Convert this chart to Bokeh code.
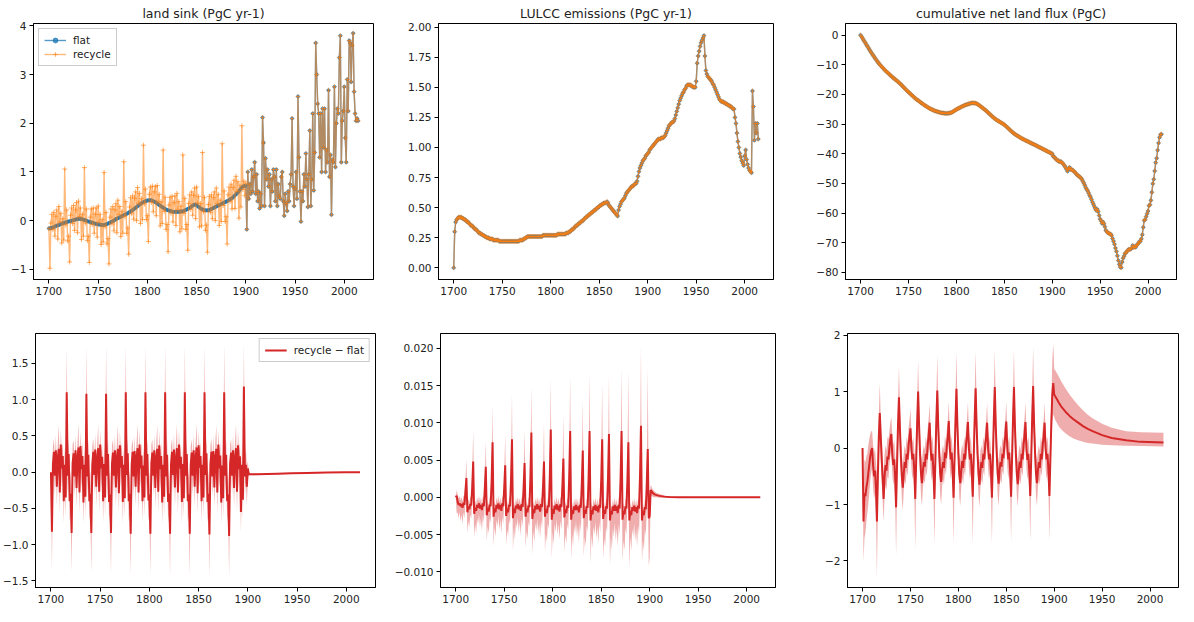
from bokeh.plotting import figure
from bokeh.layouts import column, row
from bokeh.models import Range1d, FixedTicker, CustomJSTickFormatter, Legend, LegendItem
from bokeh.embed import file_html
from bokeh.resources import INLINE

FONT = "DejaVu Sans"
BLUE = "#1f77b4"
ORANGE = "#ff7f0e"
RED = "#d62728"

# ---------------- data ----------------
years = list(range(1700, 2015))
years_pre = list(range(1700, 1901))

titles = ["land sink (PgC yr-1)", "LULCC emissions (PgC yr-1)", "cumulative net land flux (PgC)"]
x_ticks = [1700, 1750, 1800, 1850, 1900, 1950, 2000]

sink_flat_pre = [
    -0.16, -0.16, -0.15, -0.15, -0.14, -0.13, -0.12, -0.11, -0.10, -0.10,
    -0.09, -0.08, -0.07, -0.06, -0.06, -0.05, -0.04, -0.04, -0.03, -0.02,
    -0.02, -0.01, -0.01, 0.00, 0.00, 0.01, 0.02, 0.02, 0.03, 0.03,
    0.04, 0.04, 0.04, 0.03, 0.03, 0.02, 0.01, 0.01, 0.00, -0.01,
    -0.02, -0.02, -0.03, -0.04, -0.04, -0.05, -0.06, -0.06, -0.07, -0.07,
    -0.08, -0.08, -0.08, -0.09, -0.09, -0.09, -0.09, -0.08, -0.08, -0.07,
    -0.06, -0.05, -0.04, -0.03, -0.02, -0.01, 0.00, 0.02, 0.03, 0.04,
    0.05, 0.06, 0.07, 0.08, 0.09, 0.10, 0.11, 0.12, 0.13, 0.14,
    0.15, 0.16, 0.18, 0.19, 0.20, 0.22, 0.23, 0.25, 0.26, 0.28,
    0.30, 0.31, 0.33, 0.34, 0.36, 0.37, 0.38, 0.39, 0.40, 0.41,
    0.41, 0.42, 0.42, 0.42, 0.42, 0.41, 0.40, 0.39, 0.38, 0.37,
    0.35, 0.34, 0.32, 0.31, 0.29, 0.28, 0.27, 0.25, 0.24, 0.23,
    0.22, 0.21, 0.21, 0.20, 0.19, 0.19, 0.18, 0.18, 0.18, 0.18,
    0.18, 0.18, 0.18, 0.18, 0.19, 0.19, 0.19, 0.20, 0.21, 0.22,
    0.23, 0.24, 0.25, 0.26, 0.28, 0.29, 0.31, 0.32, 0.33, 0.33,
    0.32, 0.30, 0.28, 0.27, 0.25, 0.24, 0.23, 0.22, 0.22, 0.21,
    0.21, 0.21, 0.22, 0.22, 0.23, 0.24, 0.25, 0.26, 0.27, 0.28,
    0.29, 0.30, 0.31, 0.32, 0.33, 0.34, 0.35, 0.36, 0.37, 0.38,
    0.39, 0.40, 0.41, 0.42, 0.44, 0.45, 0.46, 0.48, 0.50, 0.52,
    0.54, 0.56, 0.58, 0.60, 0.63, 0.66, 0.68, 0.70, 0.71, 0.71,
    0.72]

sink_recycle_pre = [
    -0.16, -0.98, -0.05, 0.13, -0.19, 0.17, -0.32, 0.09, 0.22, -0.38, 0.29, -0.03, 0.15, -0.46, 0.04, -0.40, 1.06, -0.09, 0.22, -0.42,
    -0.32, -0.85, 0.11, 0.26, -0.06, 0.31, -0.20, 0.22, 0.37, -0.25, 0.40, 0.08, 0.26, -0.39, 0.13, -0.32, 1.09, -0.05, 0.24, -0.41,
    -0.32, -0.86, 0.07, 0.24, -0.08, 0.26, -0.26, 0.13, 0.26, -0.34, 0.30, -0.03, 0.13, -0.49, 0.02, -0.44, 0.99, -0.13, 0.17, -0.48,
    -0.37, -0.89, 0.07, 0.24, -0.07, 0.29, -0.21, 0.22, 0.35, -0.25, 0.42, 0.12, 0.29, -0.33, 0.19, -0.26, 1.21, 0.08, 0.39, -0.26,
    -0.15, -0.69, 0.28, 0.47, 0.14, 0.51, 0.03, 0.46, 0.59, 0.00, 0.68, 0.36, 0.56, -0.06, 0.45, 0.02, 1.55, 0.34, 0.65, 0.02,
    0.10, -0.43, 0.54, 0.69, 0.37, 0.71, 0.18, 0.59, 0.70, 0.10, 0.72, 0.38, 0.54, -0.11, 0.39, -0.06, 1.45, 0.19, 0.48, -0.18,
    -0.08, -0.64, 0.32, 0.48, 0.15, 0.50, -0.03, 0.37, 0.51, -0.10, 0.56, 0.23, 0.39, -0.23, 0.30, -0.17, 1.35, 0.15, 0.46, -0.18,
    -0.08, -0.61, 0.35, 0.53, 0.23, 0.59, 0.11, 0.52, 0.67, 0.04, 0.69, 0.36, 0.50, -0.13, 0.35, -0.11, 1.40, 0.18, 0.48, -0.20,
    -0.09, -0.65, 0.33, 0.50, 0.17, 0.53, 0.04, 0.47, 0.59, 0.00, 0.67, 0.35, 0.54, -0.10, 0.42, -0.02, 1.58, 0.31, 0.61, -0.02,
    0.08, -0.48, 0.53, 0.69, 0.39, 0.75, 0.24, 0.68, 0.83, 0.25, 0.91, 0.60, 0.80, 0.05, 0.73, 0.28, 1.95, 0.64, 0.81, 0.51,
    0.77]

# observed land sink 1901-2014 (identical in both runs)
sink_obs = [
    -0.18, 1.00, 0.45, 0.75, 0.55, 1.05, 0.60, 0.90, 1.20, 0.55,
    0.95, 0.40, 0.60, 0.25, 0.55, 0.30, 2.12, 1.60, 0.30, 1.28,
    0.85, 1.05, 0.70, 0.95, 0.30, 0.85, 0.60, 1.05, 0.90, 0.40,
    1.05, 0.30, 0.75, 0.50, 0.45, 0.90, 1.00, 0.40, 0.10, 0.55,
    0.35, 0.20, 0.60, 0.40, 0.75, 0.95, 2.10, 0.70, 0.30, 0.65,
    1.00, 0.45, 2.55, 1.30, 0.60, -0.02, 0.60, 0.40, 0.95, 0.70,
    1.38, 0.85, 0.28, 0.95, 1.85, 0.30, 0.85, 2.20, 0.62, 1.40,
    3.65, 3.00, 2.40, 2.20, 1.30, 2.20, 1.00, 2.30, 1.50, 2.30,
    1.00, 1.45, 1.20, 2.68, 0.90, 1.35, 0.12, 1.25, 1.20, 2.75,
    1.10, 2.00, 2.30, 2.20, 3.35, 3.80, 1.20, 2.05, 2.25, 2.75,
    1.70, 1.20, 2.90, 2.25, 3.70, 3.65, 2.85, 3.60, 3.85, 2.65,
    2.20, 2.05, 2.10, 2.05]

lulcc = [
    0.00, 0.30, 0.38, 0.40, 0.41, 0.42, 0.42, 0.42, 0.42, 0.41,
    0.41, 0.40, 0.40, 0.39, 0.38, 0.38, 0.37, 0.36, 0.35, 0.35,
    0.34, 0.33, 0.32, 0.32, 0.31, 0.30, 0.29, 0.29, 0.28, 0.28,
    0.27, 0.27, 0.26, 0.26, 0.25, 0.25, 0.25, 0.24, 0.24, 0.24,
    0.24, 0.23, 0.23, 0.23, 0.23, 0.23, 0.23, 0.22, 0.22, 0.22,
    0.22, 0.22, 0.22, 0.22, 0.22, 0.22, 0.22, 0.22, 0.22, 0.22,
    0.22, 0.22, 0.22, 0.22, 0.22, 0.22, 0.22, 0.22, 0.23, 0.23,
    0.23, 0.23, 0.24, 0.24, 0.25, 0.25, 0.26, 0.26, 0.26, 0.26,
    0.26, 0.26, 0.26, 0.26, 0.26, 0.26, 0.26, 0.26, 0.26, 0.26,
    0.26, 0.26, 0.27, 0.27, 0.27, 0.27, 0.27, 0.27, 0.27, 0.27,
    0.27, 0.27, 0.27, 0.27, 0.27, 0.27, 0.27, 0.28, 0.28, 0.28,
    0.28, 0.28, 0.28, 0.28, 0.28, 0.28, 0.29, 0.29, 0.29, 0.30,
    0.30, 0.31, 0.32, 0.32, 0.33, 0.34, 0.35, 0.35, 0.36, 0.37,
    0.37, 0.38, 0.39, 0.39, 0.40, 0.41, 0.42, 0.42, 0.43, 0.44,
    0.44, 0.45, 0.46, 0.46, 0.47, 0.48, 0.48, 0.49, 0.50, 0.50,
    0.51, 0.52, 0.52, 0.53, 0.53, 0.54, 0.54, 0.54, 0.55, 0.54,
    0.52, 0.51, 0.50, 0.49, 0.48, 0.47, 0.46, 0.45, 0.44, 0.43,
    0.48, 0.51, 0.53, 0.55, 0.56, 0.57, 0.58, 0.60, 0.62, 0.63,
    0.64, 0.65, 0.66, 0.67, 0.68, 0.68, 0.69, 0.70, 0.70, 0.72,
    0.76, 0.80, 0.83, 0.85, 0.87, 0.89, 0.90, 0.91, 0.93, 0.94,
    0.95, 0.96, 0.98, 0.99, 1.00, 1.01, 1.02, 1.03, 1.04, 1.05,
    1.06, 1.07, 1.07, 1.07, 1.08, 1.08, 1.08, 1.09, 1.10, 1.12,
    1.14, 1.16, 1.18, 1.19, 1.20, 1.21, 1.21, 1.22, 1.24, 1.27,
    1.30, 1.33, 1.36, 1.39, 1.41, 1.43, 1.45, 1.46, 1.48, 1.49,
    1.51, 1.52, 1.52, 1.52, 1.52, 1.51, 1.51, 1.50, 1.50, 1.50,
    1.55, 1.70, 1.76, 1.80, 1.84, 1.87, 1.89, 1.91, 1.93, 1.76,
    1.64, 1.61, 1.59, 1.58, 1.57, 1.56, 1.55, 1.53, 1.52, 1.50,
    1.48, 1.46, 1.44, 1.42, 1.40, 1.39, 1.38, 1.38, 1.38, 1.37,
    1.37, 1.36, 1.36, 1.35, 1.35, 1.34, 1.34, 1.33, 1.32, 1.32,
    1.25, 1.20, 1.12, 1.05, 1.00, 0.95, 0.92, 0.89, 0.87, 0.85,
    0.93, 0.98, 0.90, 0.86, 0.83, 0.81, 0.80, 0.79, 1.47, 1.34,
    1.06, 1.20, 1.12, 1.20, 1.07]

cum_flux = [
    0.0, -0.5, -1.0, -1.6, -2.1, -2.6, -3.2, -3.7, -4.2, -4.8,
    -5.3, -5.8, -6.3, -6.8, -7.2, -7.7, -8.2, -8.6, -9.1, -9.5,
    -9.9, -10.3, -10.6, -11.0, -11.3, -11.7, -12.0, -12.3, -12.6, -12.9,
    -13.2, -13.5, -13.8, -14.1, -14.4, -14.6, -14.9, -15.2, -15.4, -15.7,
    -16.0, -16.3, -16.6, -16.9, -17.3, -17.6, -17.9, -18.3, -18.6, -18.9,
    -19.2, -19.5, -19.8, -20.1, -20.4, -20.7, -21.0, -21.3, -21.6, -21.8,
    -22.0, -22.3, -22.5, -22.8, -23.0, -23.2, -23.5, -23.7, -23.9, -24.1,
    -24.3, -24.5, -24.7, -24.9, -25.0, -25.2, -25.3, -25.5, -25.6, -25.7,
    -25.8, -25.9, -26.0, -26.1, -26.2, -26.2, -26.3, -26.3, -26.4, -26.4,
    -26.4, -26.4, -26.3, -26.3, -26.2, -26.1, -25.9, -25.7, -25.5, -25.3,
    -25.1, -24.9, -24.7, -24.6, -24.4, -24.2, -24.1, -23.9, -23.8, -23.6,
    -23.5, -23.4, -23.3, -23.2, -23.1, -23.0, -22.9, -22.9, -22.9, -22.9,
    -23.0, -23.1, -23.3, -23.5, -23.7, -24.0, -24.2, -24.5, -24.7, -25.0,
    -25.2, -25.5, -25.8, -26.1, -26.4, -26.7, -27.0, -27.3, -27.6, -27.9,
    -28.1, -28.4, -28.6, -28.8, -29.0, -29.2, -29.4, -29.6, -29.8, -30.0,
    -30.2, -30.5, -30.8, -31.1, -31.4, -31.7, -32.0, -32.3, -32.6, -32.9,
    -33.1, -33.4, -33.6, -33.8, -34.0, -34.2, -34.4, -34.6, -34.8, -35.0,
    -35.1, -35.3, -35.5, -35.6, -35.8, -35.9, -36.1, -36.3, -36.4, -36.6,
    -36.7, -36.9, -37.0, -37.2, -37.4, -37.5, -37.7, -37.9, -38.0, -38.2,
    -38.4, -38.5, -38.7, -38.9, -39.0, -39.2, -39.4, -39.5, -39.7, -39.9,
    -40.0, -40.9, -41.0, -41.5, -41.8, -42.2, -42.2, -42.6, -42.7, -42.6,
    -43.0, -43.2, -43.7, -44.1, -44.7, -45.2, -45.9, -45.0, -44.6, -45.3,
    -45.2, -45.5, -45.7, -46.1, -46.3, -46.8, -47.1, -47.4, -47.6, -47.9,
    -48.2, -48.6, -49.3, -49.9, -50.6, -51.4, -52.0, -52.5, -53.2, -54.0,
    -54.6, -55.4, -56.3, -57.0, -57.8, -58.5, -59.1, -58.7, -59.5, -60.8,
    -62.0, -62.6, -63.5, -63.0, -63.6, -64.6, -65.8, -66.3, -66.6, -66.8,
    -67.0, -67.1, -67.6, -68.6, -69.5, -70.5, -71.8, -72.9, -74.4, -76.0,
    -77.3, -78.2, -78.4, -76.5, -75.2, -74.5, -73.6, -73.4, -72.9, -72.5,
    -72.2, -72.3, -72.1, -71.8, -70.9, -71.6, -71.4, -71.5, -70.9, -70.5,
    -70.2, -69.6, -69.5, -68.7, -67.3, -64.8, -62.5, -62.2, -61.2, -60.2,
    -59.3, -57.5, -57.2, -55.7, -53.0, -50.1, -48.6, -45.8, -43.0, -41.5,
    -38.8, -36.4, -34.5, -33.6, -33.4]

# ---- recycle - flat: land sink ----
dL_mean_pre = [
    0.00, -0.82, 0.10, 0.28, -0.05, 0.30, -0.20, 0.20, 0.32, -0.28, 0.38, 0.05, 0.22, -0.40, 0.10, -0.35, 1.10, -0.05, 0.25, -0.40,
    -0.30, -0.84, 0.12, 0.26, -0.06, 0.30, -0.22, 0.20, 0.34, -0.28, 0.36, 0.04, 0.22, -0.42, 0.10, -0.34, 1.08, -0.06, 0.24, -0.40,
    -0.30, -0.84, 0.10, 0.28, -0.04, 0.31, -0.20, 0.19, 0.33, -0.27, 0.38, 0.05, 0.21, -0.40, 0.11, -0.35, 1.08, -0.05, 0.25, -0.41,
    -0.31, -0.84, 0.11, 0.27, -0.05, 0.30, -0.21, 0.20, 0.32, -0.29, 0.37, 0.06, 0.22, -0.41, 0.10, -0.36, 1.10, -0.04, 0.26, -0.40,
    -0.30, -0.85, 0.10, 0.28, -0.06, 0.29, -0.20, 0.21, 0.33, -0.28, 0.38, 0.05, 0.23, -0.40, 0.09, -0.35, 1.10, -0.05, 0.25, -0.39,
    -0.31, -0.85, 0.12, 0.27, -0.05, 0.30, -0.22, 0.20, 0.32, -0.27, 0.37, 0.04, 0.22, -0.42, 0.10, -0.34, 1.10, -0.06, 0.24, -0.41,
    -0.30, -0.85, 0.11, 0.28, -0.04, 0.31, -0.21, 0.19, 0.33, -0.28, 0.38, 0.05, 0.21, -0.41, 0.11, -0.36, 1.10, -0.05, 0.25, -0.40,
    -0.31, -0.85, 0.10, 0.27, -0.05, 0.30, -0.20, 0.20, 0.34, -0.29, 0.37, 0.06, 0.22, -0.40, 0.10, -0.35, 1.10, -0.04, 0.26, -0.41,
    -0.30, -0.86, 0.11, 0.28, -0.06, 0.29, -0.21, 0.21, 0.32, -0.28, 0.38, 0.05, 0.23, -0.42, 0.09, -0.36, 1.10, -0.05, 0.24, -0.40,
    -0.31, -0.88, 0.12, 0.27, -0.05, 0.30, -0.22, 0.20, 0.33, -0.27, 0.37, 0.04, 0.22, -0.55, 0.10, -0.38, 1.18, -0.06, 0.10, -0.20,
    0.05]
dL_lo_pre = [
    0.00, -1.36, -0.10, 0.04, -0.32, 0.06, -0.47, -0.01, 0.05, -0.57, 0.14, -0.22, -0.01, -0.70, -0.11, -0.62, 0.50, -0.32, 0.02, -0.68,
    -0.57, -1.38, -0.09, 0.03, -0.33, 0.06, -0.49, -0.01, 0.06, -0.57, 0.12, -0.23, -0.01, -0.72, -0.11, -0.61, 0.49, -0.33, 0.01, -0.68,
    -0.57, -1.40, -0.10, 0.04, -0.31, 0.07, -0.47, -0.02, 0.05, -0.56, 0.14, -0.22, -0.02, -0.70, -0.10, -0.62, 0.49, -0.32, 0.02, -0.69,
    -0.58, -1.40, -0.09, 0.03, -0.32, 0.06, -0.48, -0.01, 0.04, -0.58, 0.13, -0.21, -0.01, -0.71, -0.11, -0.63, 0.50, -0.31, 0.03, -0.68,
    -0.57, -1.42, -0.10, 0.04, -0.33, 0.05, -0.47, 0.00, 0.05, -0.57, 0.14, -0.22, 0.00, -0.70, -0.12, -0.62, 0.50, -0.32, 0.02, -0.67,
    -0.58, -1.42, -0.08, 0.03, -0.32, 0.06, -0.49, -0.01, 0.04, -0.56, 0.13, -0.23, -0.01, -0.72, -0.11, -0.61, 0.50, -0.33, 0.01, -0.69,
    -0.57, -1.43, -0.09, 0.04, -0.31, 0.07, -0.48, -0.02, 0.05, -0.57, 0.14, -0.22, -0.02, -0.71, -0.10, -0.63, 0.50, -0.32, 0.02, -0.68,
    -0.58, -1.43, -0.10, 0.03, -0.32, 0.06, -0.47, -0.01, 0.06, -0.58, 0.13, -0.21, -0.01, -0.70, -0.11, -0.62, 0.50, -0.31, 0.03, -0.69,
    -0.57, -1.44, -0.09, 0.04, -0.33, 0.05, -0.48, 0.00, 0.04, -0.57, 0.14, -0.22, 0.00, -0.72, -0.12, -0.63, 0.50, -0.32, 0.01, -0.68,
    -0.58, -1.45, -0.08, 0.03, -0.32, 0.06, -0.49, -0.01, 0.05, -0.56, 0.13, -0.23, -0.01, -0.83, -0.11, -0.65, 0.55, -0.33, -0.14, -0.46,
    -0.10]
dL_hi_pre = [
    0.00, -0.36, 0.36, 0.46, 0.17, 0.51, 0.05, 0.41, 0.65, -0.03, 0.58, 0.29, 0.41, -0.14, 0.34, -0.08, 1.72, 0.22, 0.46, -0.13,
    0.02, -0.38, 0.38, 0.44, 0.16, 0.51, 0.03, 0.41, 0.67, -0.03, 0.56, 0.28, 0.41, -0.16, 0.34, -0.07, 1.74, 0.21, 0.45, -0.13,
    0.02, -0.38, 0.36, 0.46, 0.18, 0.52, 0.05, 0.40, 0.66, -0.02, 0.58, 0.29, 0.40, -0.14, 0.35, -0.08, 1.75, 0.22, 0.46, -0.14,
    0.01, -0.38, 0.37, 0.45, 0.17, 0.51, 0.04, 0.41, 0.65, -0.04, 0.57, 0.30, 0.41, -0.15, 0.34, -0.09, 1.75, 0.23, 0.47, -0.13,
    0.02, -0.39, 0.36, 0.46, 0.16, 0.50, 0.05, 0.42, 0.66, -0.03, 0.58, 0.29, 0.42, -0.14, 0.33, -0.08, 1.76, 0.22, 0.46, -0.12,
    0.01, -0.39, 0.38, 0.45, 0.17, 0.51, 0.03, 0.41, 0.65, -0.02, 0.57, 0.28, 0.41, -0.16, 0.34, -0.07, 1.75, 0.21, 0.45, -0.14,
    0.02, -0.39, 0.37, 0.46, 0.18, 0.52, 0.04, 0.40, 0.66, -0.03, 0.58, 0.29, 0.40, -0.15, 0.35, -0.09, 1.76, 0.22, 0.46, -0.13,
    0.01, -0.39, 0.36, 0.45, 0.17, 0.51, 0.05, 0.41, 0.67, -0.04, 0.57, 0.30, 0.41, -0.14, 0.34, -0.08, 1.76, 0.23, 0.47, -0.14,
    0.02, -0.40, 0.37, 0.46, 0.16, 0.50, 0.04, 0.42, 0.65, -0.03, 0.58, 0.29, 0.42, -0.16, 0.33, -0.09, 1.77, 0.22, 0.45, -0.13,
    0.01, -0.41, 0.38, 0.45, 0.17, 0.51, 0.03, 0.41, 0.66, -0.02, 0.57, 0.28, 0.41, -0.29, 0.34, -0.11, 1.78, 0.21, 0.34, 0.07,
    0.15]
dL_post_years = [1901, 1903, 1906, 1910, 1920, 1930, 1945, 1960, 1980, 2000, 2014]
dL_post_mean = [-0.030, -0.031, -0.030, -0.029, -0.025, -0.021, -0.016, -0.011, -0.006, -0.003, -0.001]
dL_post_lo = [-0.042, -0.043, -0.042, -0.040, -0.035, -0.030, -0.024, -0.018, -0.011, -0.007, -0.004]
dL_post_hi = [-0.018, -0.019, -0.018, -0.018, -0.015, -0.012, -0.008, -0.004, -0.001, 0.001, 0.002]

# ---- recycle - flat: LULCC emissions ----
dE_mean_pre = [
    0.0000, 0.0002, -0.0006, -0.0010, -0.0008, -0.0012, -0.0009, -0.0014, -0.0007, -0.0010, 0.0008, 0.0026, -0.0020, -0.0012, -0.0016, -0.0009, -0.0011, 0.0014, 0.0048, -0.0022,
    -0.0014, -0.0018, -0.0010, -0.0014, -0.0008, -0.0015, -0.0010, -0.0017, -0.0008, -0.0012, 0.0012, 0.0041, -0.0024, -0.0014, -0.0019, -0.0010, -0.0012, 0.0022, 0.0074, -0.0026,
    -0.0015, -0.0020, -0.0010, -0.0015, -0.0008, -0.0016, -0.0010, -0.0018, -0.0008, -0.0012, 0.0013, 0.0043, -0.0025, -0.0015, -0.0020, -0.0010, -0.0012, 0.0023, 0.0078, -0.0028,
    -0.0015, -0.0021, -0.0011, -0.0015, -0.0009, -0.0016, -0.0011, -0.0018, -0.0009, -0.0013, 0.0014, 0.0046, -0.0026, -0.0015, -0.0020, -0.0011, -0.0013, 0.0026, 0.0087, -0.0029,
    -0.0016, -0.0021, -0.0011, -0.0016, -0.0009, -0.0016, -0.0011, -0.0019, -0.0009, -0.0013, 0.0014, 0.0048, -0.0026, -0.0016, -0.0021, -0.0011, -0.0013, 0.0027, 0.0091, -0.0030,
    -0.0016, -0.0022, -0.0011, -0.0016, -0.0009, -0.0017, -0.0011, -0.0019, -0.0009, -0.0013, 0.0016, 0.0052, -0.0027, -0.0016, -0.0021, -0.0011, -0.0014, 0.0027, 0.0089, -0.0030,
    -0.0017, -0.0022, -0.0012, -0.0017, -0.0010, -0.0017, -0.0012, -0.0020, -0.0010, -0.0014, 0.0019, 0.0063, -0.0028, -0.0017, -0.0022, -0.0012, -0.0014, 0.0027, 0.0089, -0.0031,
    -0.0017, -0.0023, -0.0012, -0.0017, -0.0010, -0.0018, -0.0012, -0.0020, -0.0010, -0.0014, 0.0023, 0.0078, -0.0029, -0.0017, -0.0022, -0.0012, -0.0015, 0.0026, 0.0085, -0.0031,
    -0.0018, -0.0023, -0.0012, -0.0018, -0.0010, -0.0018, -0.0012, -0.0021, -0.0010, -0.0015, 0.0027, 0.0089, -0.0030, -0.0018, -0.0023, -0.0012, -0.0015, 0.0022, 0.0074, -0.0031,
    -0.0018, -0.0024, -0.0013, -0.0018, -0.0011, -0.0019, -0.0013, -0.0021, -0.0011, -0.0015, 0.0029, 0.0096, -0.0031, -0.0018, -0.0024, -0.0013, -0.0016, 0.0020, 0.0065, -0.0028,
    -0.0025]
dE_lo_pre = [
    0.0000, -0.0022, -0.0020, -0.0028, -0.0020, -0.0032, -0.0023, -0.0036, -0.0020, -0.0028, -0.0006, 0.0010, -0.0048, -0.0032, -0.0040, -0.0023, -0.0029, -0.0002, 0.0028, -0.0054,
    -0.0036, -0.0048, -0.0028, -0.0036, -0.0023, -0.0040, -0.0028, -0.0045, -0.0024, -0.0034, -0.0006, 0.0021, -0.0059, -0.0039, -0.0049, -0.0028, -0.0034, 0.0002, 0.0049, -0.0066,
    -0.0039, -0.0053, -0.0030, -0.0039, -0.0025, -0.0044, -0.0030, -0.0049, -0.0026, -0.0036, -0.0007, 0.0021, -0.0064, -0.0043, -0.0053, -0.0030, -0.0036, 0.0001, 0.0050, -0.0072,
    -0.0041, -0.0057, -0.0033, -0.0041, -0.0027, -0.0046, -0.0033, -0.0052, -0.0028, -0.0039, -0.0008, 0.0022, -0.0068, -0.0045, -0.0056, -0.0033, -0.0039, 0.0002, 0.0057, -0.0077,
    -0.0045, -0.0060, -0.0034, -0.0045, -0.0029, -0.0049, -0.0034, -0.0055, -0.0030, -0.0042, -0.0009, 0.0022, -0.0072, -0.0049, -0.0060, -0.0034, -0.0042, 0.0001, 0.0058, -0.0082,
    -0.0046, -0.0063, -0.0035, -0.0046, -0.0029, -0.0051, -0.0035, -0.0057, -0.0031, -0.0043, -0.0008, 0.0025, -0.0074, -0.0050, -0.0062, -0.0035, -0.0044, 0.0000, 0.0055, -0.0084,
    -0.0049, -0.0066, -0.0038, -0.0049, -0.0032, -0.0053, -0.0038, -0.0061, -0.0033, -0.0046, -0.0007, 0.0034, -0.0079, -0.0053, -0.0066, -0.0038, -0.0046, -0.0002, 0.0053, -0.0089,
    -0.0050, -0.0068, -0.0039, -0.0050, -0.0033, -0.0056, -0.0039, -0.0062, -0.0034, -0.0047, -0.0004, 0.0048, -0.0082, -0.0055, -0.0067, -0.0039, -0.0048, -0.0004, 0.0047, -0.0091,
    -0.0053, -0.0071, -0.0041, -0.0053, -0.0034, -0.0058, -0.0041, -0.0066, -0.0036, -0.0050, -0.0002, 0.0057, -0.0086, -0.0058, -0.0071, -0.0041, -0.0050, -0.0010, 0.0034, -0.0095,
    -0.0053, -0.0072, -0.0042, -0.0053, -0.0035, -0.0059, -0.0042, -0.0066, -0.0037, -0.0050, 0.0000, 0.0060, -0.0087, -0.0058, -0.0072, -0.0042, -0.0051, -0.0012, 0.0025, -0.0092,
    -0.0080]
dE_hi_pre = [
    0.0000, 0.0010, 0.0004, -0.0002, 0.0002, -0.0004, 0.0001, -0.0006, 0.0003, 0.0000, 0.0023, 0.0052, -0.0008, -0.0002, -0.0008, 0.0001, 0.0001, 0.0032, 0.0090, -0.0012,
    -0.0004, -0.0010, 0.0000, -0.0006, 0.0002, -0.0007, 0.0000, -0.0009, 0.0002, -0.0002, 0.0027, 0.0076, -0.0012, -0.0004, -0.0011, 0.0000, 0.0000, 0.0040, 0.0124, -0.0016,
    -0.0005, -0.0012, 0.0000, -0.0007, 0.0002, -0.0008, 0.0000, -0.0010, 0.0002, -0.0002, 0.0028, 0.0085, -0.0013, -0.0005, -0.0012, 0.0000, 0.0000, 0.0041, 0.0139, -0.0018,
    -0.0005, -0.0013, -0.0001, -0.0007, 0.0001, -0.0008, -0.0001, -0.0010, 0.0001, -0.0003, 0.0029, 0.0091, -0.0014, -0.0005, -0.0012, -0.0001, -0.0001, 0.0044, 0.0150, -0.0019,
    -0.0006, -0.0013, -0.0001, -0.0008, 0.0001, -0.0008, -0.0001, -0.0011, 0.0001, -0.0003, 0.0029, 0.0100, -0.0014, -0.0006, -0.0013, -0.0001, -0.0001, 0.0045, 0.0160, -0.0020,
    -0.0006, -0.0014, -0.0001, -0.0008, 0.0001, -0.0009, -0.0001, -0.0011, 0.0001, -0.0003, 0.0031, 0.0110, -0.0015, -0.0006, -0.0013, -0.0001, -0.0002, 0.0045, 0.0163, -0.0020,
    -0.0007, -0.0014, -0.0002, -0.0009, 0.0000, -0.0009, -0.0002, -0.0012, 0.0000, -0.0004, 0.0034, 0.0130, -0.0016, -0.0007, -0.0014, -0.0002, -0.0002, 0.0045, 0.0167, -0.0021,
    -0.0007, -0.0015, -0.0002, -0.0009, 0.0000, -0.0010, -0.0002, -0.0012, 0.0000, -0.0004, 0.0038, 0.0154, -0.0017, -0.0007, -0.0014, -0.0002, -0.0003, 0.0044, 0.0165, -0.0021,
    -0.0008, -0.0015, -0.0002, -0.0010, 0.0000, -0.0010, -0.0002, -0.0013, 0.0000, -0.0005, 0.0042, 0.0174, -0.0018, -0.0008, -0.0015, -0.0002, -0.0003, 0.0040, 0.0170, -0.0021,
    -0.0008, -0.0016, -0.0003, -0.0010, -0.0001, -0.0011, -0.0003, -0.0013, -0.0001, -0.0005, 0.0044, 0.0204, -0.0019, -0.0008, -0.0016, -0.0003, -0.0004, 0.0038, 0.0174, -0.0018,
    -0.0005]
dE_post_years = [1901, 1902, 1903, 1905, 1907, 1910, 1915, 1920, 1930, 1950, 1980, 2014]
dE_post_mean = [0.0010, 0.0008, 0.0006, 0.0004, 0.0003, 0.0002, 0.0001, 0.00005, 0.00002, 0.0, 0.0, 0.0]
dE_post_lo = [0.0003, 0.0002, 0.0001, 0.0000, 0.0000, -0.00005, -0.00005, -0.00005, -0.00003, -0.00002, -0.00002, -0.00002]
dE_post_hi = [0.0017, 0.0014, 0.0011, 0.0008, 0.0006, 0.00045, 0.00025, 0.00015, 0.00007, 0.00002, 0.00002, 0.00002]

# ---- recycle - flat: cumulative net land flux ----
dC_mean_pre = [
    0.00, -1.30, -0.80, -0.85, -0.70, -0.60, -0.45, -0.30, -0.15, -0.05, 0.00, -0.30, -0.50, -0.40, -0.70, -1.30, -0.50, 0.20, 0.62, 0.20,
    -0.20, -0.55, -0.90, -0.50, -0.30, -0.40, -0.15, -0.20, 0.00, 0.15, 0.25, -0.10, -0.30, -0.20, -0.50, -1.05, -0.30, 0.40, 0.90, 0.35,
    -0.15, -0.50, -0.70, -0.45, -0.25, -0.35, -0.10, -0.20, 0.05, 0.20, 0.35, 0.00, -0.20, -0.10, -0.40, -0.90, -0.20, 0.45, 1.00, 0.40,
    -0.10, -0.45, -0.62, -0.40, -0.25, -0.33, -0.10, -0.20, 0.05, 0.22, 0.45, 0.00, -0.22, -0.10, -0.42, -0.90, -0.22, 0.48, 1.02, 0.38,
    -0.08, -0.45, -0.60, -0.38, -0.25, -0.35, -0.08, -0.18, 0.05, 0.20, 0.48, 0.02, -0.20, -0.08, -0.40, -0.88, -0.20, 0.50, 1.05, 0.40,
    -0.10, -0.47, -0.62, -0.40, -0.23, -0.35, -0.10, -0.20, 0.07, 0.22, 0.46, 0.00, -0.20, -0.10, -0.42, -0.86, -0.18, 0.52, 1.06, 0.42,
    -0.10, -0.45, -0.65, -0.40, -0.25, -0.35, -0.10, -0.20, 0.05, 0.20, 0.45, 0.00, -0.20, -0.10, -0.40, -0.88, -0.20, 0.52, 1.08, 0.40,
    -0.08, -0.45, -0.63, -0.38, -0.25, -0.33, -0.10, -0.18, 0.05, 0.22, 0.47, 0.02, -0.20, -0.08, -0.40, -0.86, -0.20, 0.50, 1.08, 0.40,
    -0.10, -0.46, -0.64, -0.40, -0.24, -0.35, -0.10, -0.20, 0.06, 0.21, 0.46, 0.00, -0.21, -0.10, -0.41, -0.85, -0.18, 0.52, 1.10, 0.42,
    -0.08, -0.45, -0.62, -0.40, -0.25, -0.35, -0.10, -0.20, 0.05, 0.20, 0.45, 0.00, -0.20, -0.10, -0.40, -0.85, -0.20, 0.45, 0.95, 1.15,
    0.95]
dC_lo_pre = [
    0.00, -2.00, -1.60, -1.50, -1.30, -1.15, -1.00, -0.80, -0.60, -0.45, -0.35, -0.70, -0.90, -0.80, -1.15, -2.30, -1.00, -0.20, 0.20, -0.20,
    -0.55, -0.95, -1.30, -0.85, -0.65, -0.75, -0.50, -0.55, -0.30, -0.15, -0.05, -0.45, -0.65, -0.55, -0.90, -1.90, -0.75, 0.00, 0.40, -0.05,
    -0.45, -0.90, -1.10, -0.75, -0.55, -0.65, -0.40, -0.50, -0.25, -0.10, 0.00, -0.35, -0.55, -0.45, -0.75, -1.80, -0.60, 0.05, 0.50, 0.00,
    -0.42, -0.85, -1.02, -0.70, -0.55, -0.63, -0.40, -0.50, -0.25, -0.08, 0.10, -0.35, -0.57, -0.45, -0.77, -1.72, -0.62, 0.08, 0.52, -0.02,
    -0.38, -0.85, -1.00, -0.68, -0.55, -0.65, -0.38, -0.48, -0.25, -0.10, 0.12, -0.33, -0.55, -0.43, -0.75, -1.70, -0.60, 0.10, 0.55, 0.00,
    -0.40, -0.87, -1.02, -0.70, -0.53, -0.65, -0.40, -0.50, -0.23, -0.08, 0.11, -0.35, -0.55, -0.45, -0.77, -1.70, -0.58, 0.12, 0.56, 0.02,
    -0.40, -0.85, -1.05, -0.70, -0.55, -0.65, -0.40, -0.50, -0.25, -0.10, 0.10, -0.35, -0.55, -0.45, -0.75, -1.70, -0.60, 0.12, 0.56, 0.00,
    -0.38, -0.85, -1.03, -0.68, -0.55, -0.63, -0.40, -0.48, -0.25, -0.08, 0.12, -0.33, -0.55, -0.43, -0.75, -1.66, -0.60, 0.10, 0.56, 0.00,
    -0.40, -0.86, -1.04, -0.70, -0.54, -0.65, -0.40, -0.50, -0.24, -0.09, 0.11, -0.35, -0.56, -0.45, -0.76, -1.65, -0.58, 0.12, 0.58, 0.02,
    -0.38, -0.85, -1.02, -0.70, -0.55, -0.65, -0.40, -0.50, -0.25, -0.10, 0.10, -0.35, -0.55, -0.45, -0.75, -1.65, -0.60, 0.05, 0.45, 0.60,
    0.55]
dC_hi_pre = [
    0.00, -0.60, -0.20, -0.25, -0.15, -0.10, 0.05, 0.15, 0.25, 0.30, 0.30, 0.05, -0.10, 0.00, -0.25, -0.45, 0.00, 0.60, 1.15, 0.55,
    0.15, -0.15, -0.45, -0.10, 0.05, -0.05, 0.20, 0.15, 0.30, 0.45, 0.55, 0.25, 0.05, 0.15, -0.10, -0.45, 0.15, 0.80, 1.45, 0.75,
    0.20, -0.10, -0.30, -0.10, 0.05, -0.05, 0.20, 0.10, 0.35, 0.50, 0.70, 0.30, 0.10, 0.20, -0.05, -0.40, 0.20, 0.85, 1.55, 0.80,
    0.25, -0.10, -0.22, -0.05, 0.05, -0.03, 0.20, 0.10, 0.35, 0.52, 0.78, 0.32, 0.10, 0.22, -0.07, -0.42, 0.18, 0.88, 1.65, 0.78,
    0.27, -0.10, -0.20, -0.03, 0.05, -0.05, 0.22, 0.12, 0.35, 0.50, 0.82, 0.32, 0.10, 0.22, -0.05, -0.40, 0.20, 0.90, 1.70, 0.80,
    0.25, -0.12, -0.22, -0.05, 0.07, -0.05, 0.20, 0.10, 0.37, 0.52, 0.81, 0.30, 0.10, 0.20, -0.07, -0.40, 0.22, 0.92, 1.71, 0.82,
    0.25, -0.10, -0.25, -0.05, 0.05, -0.05, 0.20, 0.10, 0.35, 0.50, 0.80, 0.30, 0.10, 0.20, -0.05, -0.40, 0.20, 0.92, 1.73, 0.80,
    0.27, -0.10, -0.23, -0.03, 0.05, -0.03, 0.20, 0.12, 0.35, 0.52, 0.82, 0.32, 0.10, 0.22, -0.05, -0.40, 0.20, 0.90, 1.75, 0.80,
    0.25, -0.11, -0.24, -0.05, 0.06, -0.05, 0.20, 0.10, 0.36, 0.51, 0.81, 0.30, 0.09, 0.20, -0.06, -0.40, 0.22, 0.92, 1.80, 0.82,
    0.27, -0.10, -0.22, -0.05, 0.05, -0.05, 0.20, 0.10, 0.35, 0.50, 0.80, 0.30, 0.10, 0.20, -0.05, -0.40, 0.20, 0.85, 1.55, 1.85,
    1.40]
dC_post_years = [1901, 1903, 1905, 1908, 1912, 1916, 1920, 1925, 1930, 1935, 1940, 1950, 1960, 1975, 1990, 2014]
dC_post_mean = [0.92, 0.86, 0.80, 0.72, 0.64, 0.57, 0.51, 0.45, 0.39, 0.34, 0.30, 0.23, 0.18, 0.14, 0.11, 0.10]
dC_post_lo = [0.50, 0.44, 0.38, 0.32, 0.26, 0.21, 0.17, 0.14, 0.11, 0.09, 0.08, 0.06, 0.05, 0.04, 0.035, 0.03]
dC_post_hi = [1.38, 1.32, 1.26, 1.16, 1.05, 0.95, 0.86, 0.76, 0.67, 0.59, 0.53, 0.43, 0.36, 0.30, 0.28, 0.27]

# ---------------- helpers ----------------
def tick_fmt(dec):
    return CustomJSTickFormatter(args=dict(d=dec), code="""
        const v = Math.abs(tick) < 1e-12 ? 0 : tick;
        return v.toFixed(d).replace('-', '\\u2212');
    """)


def make_fig(fw, fh, bl, br, bt, bb, yr, yticks, ydec, title=None):
    kw = dict(frame_width=fw, frame_height=fh,
              min_border_left=bl, min_border_right=br,
              min_border_top=bt, min_border_bottom=bb,
              x_range=Range1d(1684.3, 2029.7), y_range=Range1d(*yr),
              toolbar_location=None, output_backend="svg")
    if title:
        kw["title"] = title
    p = figure(**kw)
    p.background_fill_color = "white"
    p.border_fill_color = "white"
    p.xgrid.visible = False
    p.ygrid.visible = False
    p.outline_line_color = "black"
    p.outline_line_width = 1
    p.outline_line_alpha = 1
    p.xaxis.ticker = FixedTicker(ticks=x_ticks)
    p.yaxis.ticker = FixedTicker(ticks=yticks)
    p.xaxis.formatter = tick_fmt(0)
    p.yaxis.formatter = tick_fmt(ydec)
    for ax in (p.xaxis[0], p.yaxis[0]):
        ax.major_label_text_font = FONT
        ax.major_label_text_font_size = "10.5px"
        ax.major_label_text_color = "#222222"
        ax.major_tick_out = 4
        ax.major_tick_in = 0
        ax.minor_tick_out = 0
        ax.minor_tick_in = 0
        ax.axis_line_color = "black"
        ax.major_tick_line_color = "black"
        ax.major_label_standoff = 3
    if title:
        p.title.text_font = FONT
        p.title.text_font_size = "12.5px"
        p.title.text_font_style = "normal"
        p.title.text_color = "#222222"
        p.title.align = "center"
        p.title.standoff = 6
    return p


def add_pair(p, x, y_flat, y_rec):
    lf = p.line(x, y_flat, line_color=BLUE, line_width=1.4, line_alpha=0.75)
    sf = p.scatter(x, y_flat, marker="circle", size=3, fill_color=BLUE, line_color=BLUE, alpha=0.75)
    lr = p.line(x, y_rec, line_color=ORANGE, line_width=1.4, line_alpha=0.55)
    sr = p.scatter(x, y_rec, marker="cross", size=5, line_color=ORANGE, line_alpha=0.6)
    return lf, sf, lr, sr


def add_band(p, x, m, lo, hi):
    p.varea(x=x, y1=lo, y2=hi, fill_color=RED, fill_alpha=0.38)
    return p.line(x, m, line_color=RED, line_width=2)


def style_legend(lg):
    lg.label_text_font = FONT
    lg.label_text_font_size = "10.5px"
    lg.label_text_color = "#222222"
    lg.glyph_width = 22
    lg.glyph_height = 12
    lg.label_standoff = 7
    lg.padding = 5
    lg.spacing = 2
    lg.margin = 5
    lg.border_line_color = "#cccccc"
    lg.border_line_alpha = 1
    lg.background_fill_alpha = 0.85


# ---------------- layout geometry ----------------
cols = [(340, 33, 9), (335, 56, 9), (331, 63, 1)]
TOP = (256, 20, 22)
BOT = (254, 32, 20)

# ---------------- top row ----------------
sink_flat = sink_flat_pre + sink_obs
sink_recycle = sink_recycle_pre + sink_obs

p1 = make_fig(cols[0][0], TOP[0], cols[0][1], cols[0][2], TOP[1], TOP[2],
              (-1.21, 4.05), [-1, 0, 1, 2, 3, 4], 0, titles[0])
lf, sf, lr, sr = add_pair(p1, years, sink_flat, sink_recycle)
lg1 = Legend(items=[LegendItem(label="flat", renderers=[lf, sf]),
                    LegendItem(label="recycle", renderers=[lr, sr])],
             location="top_left")
style_legend(lg1)
p1.add_layout(lg1)

p2 = make_fig(cols[1][0], TOP[0], cols[1][1], cols[1][2], TOP[1], TOP[2],
              (-0.097, 2.03), [0, 0.25, 0.5, 0.75, 1.0, 1.25, 1.5, 1.75, 2.0], 2, titles[1])
add_pair(p2, years, lulcc, lulcc)

p3 = make_fig(cols[2][0], TOP[0], cols[2][1], cols[2][2], TOP[1], TOP[2],
              (-82.4, 3.9), [-80, -70, -60, -50, -40, -30, -20, -10, 0], 0, titles[2])
add_pair(p3, years, cum_flux, cum_flux)

# ---------------- bottom row ----------------
p4 = make_fig(cols[0][0], BOT[0], cols[0][1], cols[0][2], BOT[1], BOT[2],
              (-1.59, 1.91), [-1.5, -1.0, -0.5, 0.0, 0.5, 1.0, 1.5], 1)
l4 = add_band(p4, years_pre + dL_post_years, dL_mean_pre + dL_post_mean,
              dL_lo_pre + dL_post_lo, dL_hi_pre + dL_post_hi)
lg4 = Legend(items=[LegendItem(label="recycle \u2212 flat", renderers=[l4])], location="top_right")
style_legend(lg4)
p4.add_layout(lg4)

p5 = make_fig(cols[1][0], BOT[0], cols[1][1], cols[1][2], BOT[1], BOT[2],
              (-0.0121, 0.0220), [-0.010, -0.005, 0.0, 0.005, 0.010, 0.015, 0.020], 3)
add_band(p5, years_pre + dE_post_years, dE_mean_pre + dE_post_mean,
         dE_lo_pre + dE_post_lo, dE_hi_pre + dE_post_hi)

p6 = make_fig(cols[2][0], BOT[0], cols[2][1], cols[2][2], BOT[1], BOT[2],
              (-2.47, 2.03), [-2, -1, 0, 1, 2], 0)
add_band(p6, years_pre + dC_post_years, dC_mean_pre + dC_post_mean,
         dC_lo_pre + dC_post_lo, dC_hi_pre + dC_post_hi)

layout = column(row(p1, p2, p3), row(p4, p5, p6))

with open("out.html", "w", encoding="utf-8") as f:
    f.write(file_html(layout, INLINE))
